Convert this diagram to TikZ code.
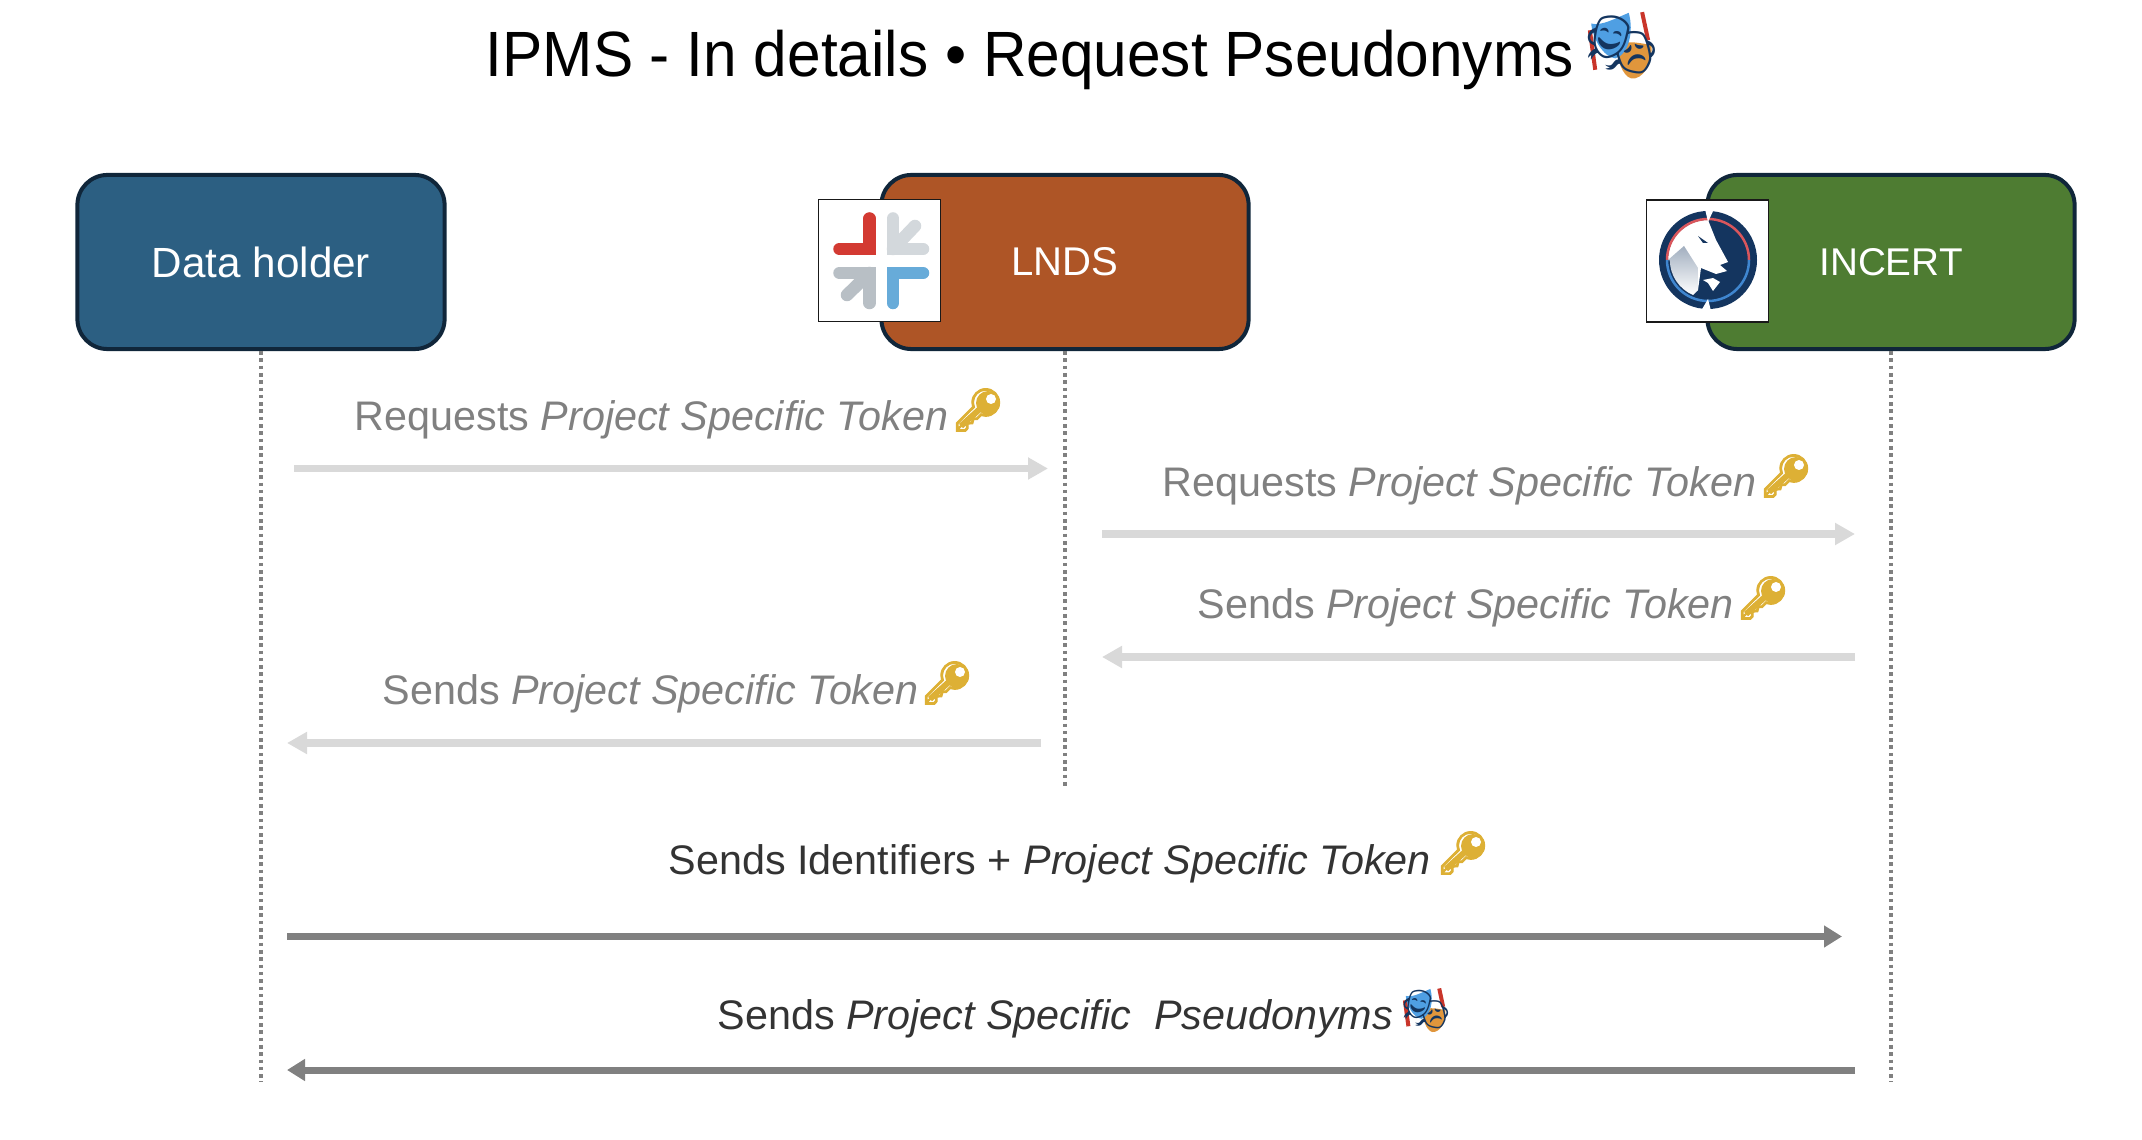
\documentclass[tikz,border=0pt]{standalone}
\usepackage{fontspec}
\setmainfont{Liberation Sans}
\newfontfamily\titlefont[FakeStretch=0.943]{Liberation Sans}
\newfontfamily\emojifont{Noto Emoji}
\newfontfamily\keyfont[FakeBold=2.5]{Noto Emoji}
\usepackage{tikz}
\usetikzlibrary{arrows.meta,shapes}
\definecolor{boxedge}{HTML}{10263A}
\definecolor{holderfill}{HTML}{2C5F82}
\definecolor{lndsfill}{HTML}{AE5526}
\definecolor{incertfill}{HTML}{4E7C32}
\definecolor{navy}{HTML}{14355F}
\definecolor{keygold}{HTML}{DDB035}
\definecolor{lndsred}{HTML}{D33A32}
\definecolor{lndspale}{HTML}{D3D8DC}
\definecolor{lndsgrey}{HTML}{B8BFC5}
\definecolor{lndsblue}{HTML}{67ABD9}
\definecolor{ringred}{HTML}{D9565C}
\definecolor{ringblue}{HTML}{3F86D0}
\definecolor{maskblue}{HTML}{4F9FE3}
\definecolor{maskorange}{HTML}{E0963C}
\definecolor{ribbonred}{HTML}{C9352A}
\tikzset{
	actorbox/.style={draw=boxedge, line width=0.04cm, rounded corners=0.3cm, minimum width=3.67cm, minimum height=1.74cm, inner sep=0pt, text=white, font=\fontsize{11.4}{14}\selectfont},
	logobox/.style={draw=black!90, fill=white, line width=0.016cm, minimum width=1.22cm, minimum height=1.22cm, inner sep=0pt},
	logoarm/.style={line width=0.125cm, line cap=round},
	lifeline/.style={draw=gray, line width=0.033cm, dash pattern=on 0.036cm off 0.037cm},
	lightarrow/.style={draw=black!15, line width=0.07cm, -{Triangle[length=0.2cm,width=0.21cm]}},
	darkarrow/.style={draw=gray, line width=0.07cm, -{Triangle[length=0.18cm,width=0.21cm]}},
	lightlabel/.style={anchor=base west, inner sep=0pt, text=gray, font=\fontsize{11.75}{14}\selectfont},
	darklabel/.style={anchor=base west, inner sep=0pt, text=black!80, font=\fontsize{11.75}{14}\selectfont},
	keyicon/.pic={
		\fill [keygold] (10,-7) circle [radius=12];
		\draw [keygold, line width=0.06cm] (3,-2) -- (-17,16);
		\node (glyph) at (0,0) [inner sep=0pt, text=keygold, font=\keyfont\fontsize{12}{12}\selectfont] {🔑};
		\fill [white] (13,-11) circle [radius=5];
	},
	maskicon/.pic={
		\draw [ribbonred, line width=0.04cm] (-48,-22) -- (-40,37);
		\draw [ribbonred, line width=0.04cm] (30,-49) -- (39,-7);
		\fill [maskorange] (-8,0) .. controls (8,-8) and (30,-2) .. (44,0) .. controls (46,30) and (30,52) .. (14,50) .. controls (0,46) and (-8,20) .. (-8,0) -- cycle;
		\fill [maskblue] (-46,-32) .. controls (-30,-28) and (-10,-40) .. (10,-48) .. controls (18,-20) and (10,14) .. (-10,20) .. controls (-28,18) and (-44,-10) .. (-46,-32) -- cycle;
	},
}
\begin{document}
\begin{tikzpicture}[x=0.01cm, y=-0.01cm]
	\useasboundingbox (0,0) rectangle (2142,1140);
	\node (title) at (485,77) [anchor=base west, inner sep=0pt, font=\titlefont\fontsize{18.2}{22}\selectfont] {IPMS - In details • Request Pseudonyms};
	\pic at (1622,45) [scale=0.67] {maskicon};
	\node (titlemask) at (1622,45) [inner sep=0pt, text=navy, font=\emojifont\fontsize{16.3}{16}\selectfont] {🎭};

	\node (holder) at (261,262) [actorbox, fill=holderfill, font=\fontsize{12}{14}\selectfont] {Data holder};
	\node (lnds) at (1065,262) [actorbox, fill=lndsfill] {LNDS};
	\node (incert) at (1891,262) [actorbox, fill=incertfill, font=\fontsize{11}{14}\selectfont] {INCERT};
	\node (lndslogo) at (879.5,260.5) [logobox] {};
	\node (incertlogo) at (1707.5,261) [logobox] {};

	\draw [logoarm, draw=lndsred] (839.5,249) -- (869.5,249) -- (869.5,218.5);
	\draw [logoarm, draw=lndspale] (923,249) -- (893,249) -- (893,218.5);
	\draw [logoarm, draw=lndspale] (893,249) -- (915,226);
	\draw [logoarm, draw=lndsgrey] (839.5,273) -- (869.5,273) -- (869.5,303);
	\draw [logoarm, draw=lndsgrey] (869.5,273) -- (847,295);
	\draw [logoarm, draw=lndsblue] (923,273) -- (893,273) -- (893,303);

	\begin{scope}[shift={(1708,260)}]
		\fill [navy] (0,0) circle [radius=49];
		\fill [white] (-40,0) arc [start angle=180, end angle=270, radius=40] -- (8,-20) -- (20,2) -- (12,5) -- (19,11) -- (8,14) -- (-7,8) -- (-10,30) -- (-15,33) arc [start angle=114, end angle=180, radius=36] -- cycle;
		\shade [top color=navy!40, bottom color=white] (-40,0) -- (-24,-14) -- (-10,8) -- (-10,30) -- (-15,35) arc [start angle=113, end angle=180, radius=38] -- cycle;
		\fill [navy] (-10,-24) -- (0,-17) -- (-5,-17) -- cycle;
		\fill [white] (-5,20) -- (5,18) -- (12,22) -- (5,31) -- (0,23) -- cycle;
		\draw [line width=0.025cm, draw=ringred] (-41,0) arc [start angle=180, end angle=360, radius=41];
		\draw [line width=0.025cm, draw=ringblue] (-41,0) arc [start angle=180, end angle=0, radius=41];
		\fill [white] (-3,-51) -- (0,-38) -- (6,-51) -- cycle;
		\fill [white] (-7,51) -- (0,39) -- (3,51) -- cycle;
	\end{scope}

	\coordinate (holderend) at (261,1082);
	\coordinate (lndsend) at (1065,788);
	\coordinate (incertend) at (1891,1082);
	\draw [lifeline] (holder.south) -- (holderend);
	\draw [lifeline] (lnds.south) -- (lndsend);
	\draw [lifeline] (incert.south) -- (incertend);

	\coordinate (reqa) at (294,468.5);
	\coordinate (reqb) at (1048,468.5);
	\coordinate (reqc) at (1102,534);
	\coordinate (reqd) at (1855,534);
	\coordinate (senda) at (1855,657);
	\coordinate (sendb) at (1102,657);
	\coordinate (sendc) at (1041,743);
	\coordinate (sendd) at (287,743);
	\coordinate (idsa) at (287,936.5);
	\coordinate (idsb) at (1842,936.5);
	\coordinate (pseua) at (1855,1070);
	\coordinate (pseub) at (287,1070);
	\draw [lightarrow] (reqa) -- (reqb);
	\draw [lightarrow] (reqc) -- (reqd);
	\draw [lightarrow] (senda) -- (sendb);
	\draw [lightarrow] (sendc) -- (sendd);
	\draw [darkarrow] (idsa) -- (idsb);
	\draw [darkarrow] (pseua) -- (pseub);

	\node (reqlnds) at (354,431) [lightlabel] {Requests \textit{Project Specific Token}};
	\node (reqincert) at (1162,497) [lightlabel] {Requests \textit{Project Specific Token}};
	\node (sendincert) at (1197,619) [lightlabel] {Sends \textit{Project Specific Token}};
	\node (sendlnds) at (382,704.5) [lightlabel] {Sends \textit{Project Specific Token}};
	\node (sendids) at (668,874) [darklabel] {Sends Identifiers + \textit{Project Specific Token}};
	\node (sendpseu) at (717,1029) [darklabel] {Sends \textit{Project Specific~~Pseudonyms}};

	\pic (keya) at (978,410) {keyicon};
	\pic (keyb) at (1786,476) {keyicon};
	\pic (keyc) at (1763,598) {keyicon};
	\pic (keyd) at (947,683) {keyicon};
	\pic (keye) at (1463,853) {keyicon};
	\pic at (1426,1010) [scale=0.44] {maskicon};
	\node (pseumask) at (1426,1010) [inner sep=0pt, text=navy, font=\emojifont\fontsize{10.8}{11}\selectfont] {🎭};
\end{tikzpicture}
\end{document}
